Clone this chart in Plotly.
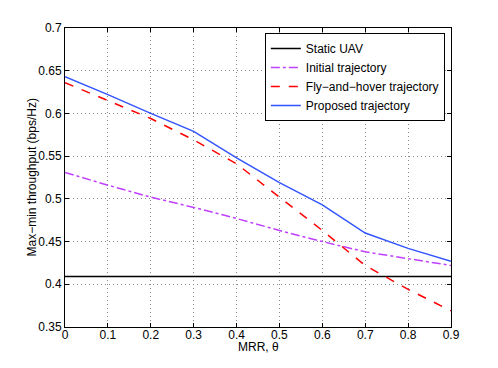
import plotly.graph_objects as go

mrr = [0, 0.1, 0.2, 0.3, 0.4, 0.5, 0.6, 0.7, 0.8, 0.9]
static_uav = [0.409] * 10
initial = [0.531, 0.516, 0.502, 0.490, 0.477, 0.463, 0.450, 0.438, 0.430, 0.422]
fly_hover = [0.636, 0.615, 0.594, 0.569, 0.541, 0.502, 0.463, 0.422, 0.394, 0.369]
proposed = [0.643, 0.622, 0.600, 0.579, 0.548, 0.519, 0.493, 0.460, 0.442, 0.427]

x_title = "MRR, \u03b8"
y_title = "Max\u2212min throughput (bps/Hz)"

fig = go.Figure()
fig.add_trace(go.Scatter(x=mrr, y=static_uav, mode="lines", name="Static UAV",
                         line=dict(color="#000000", width=1.5)))
fig.add_trace(go.Scatter(x=mrr, y=initial, mode="lines", name="Initial trajectory",
                         line=dict(color="#bf40ff", width=1.5, dash="dashdot")))
fig.add_trace(go.Scatter(x=mrr, y=fly_hover, mode="lines", name="Fly\u2212and\u2212hover trajectory",
                         line=dict(color="#ff0000", width=1.5, dash="dash")))
fig.add_trace(go.Scatter(x=mrr, y=proposed, mode="lines", name="Proposed trajectory",
                         line=dict(color="#3355ff", width=1.5)))

axis_common = dict(showline=True, linecolor="#000000", linewidth=1, mirror="ticks",
                   ticks="inside", ticklen=4, tickcolor="#000000",
                   showgrid=True, gridcolor="#8a8a8a", griddash="1px,3px", gridwidth=1,
                   zeroline=False, automargin=False,
                   tickfont=dict(size=12, color="#000000"))

fig.update_xaxes(range=[0, 0.9], dtick=0.1, tick0=0, ticklabelstandoff=-3, **axis_common)
fig.update_yaxes(range=[0.35, 0.7], dtick=0.05, tick0=0.35, **axis_common)

fig.add_annotation(text=x_title, xref="paper", yref="paper", x=0.5, y=0,
                   xanchor="center", yanchor="middle", yshift=-20, showarrow=False,
                   font=dict(size=12, color="#000000"))
fig.add_annotation(text=y_title, xref="paper", yref="paper", x=0, y=0.5,
                   xanchor="center", yanchor="middle", xshift=-34, textangle=-90,
                   showarrow=False, font=dict(size=12, color="#000000"))

fig.update_layout(
    width=490, height=360,
    margin=dict(l=57, r=47, t=20, b=41),
    paper_bgcolor="white", plot_bgcolor="white",
    font=dict(family="Liberation Sans, Arial, sans-serif", size=12, color="#000000"),
    legend=dict(x=0.984, y=0.983, xanchor="right", yanchor="top",
                bordercolor="#000000", borderwidth=1, bgcolor="white",
                font=dict(size=12), tracegroupgap=0, itemwidth=30),
    showlegend=True,
)

fig.write_html("out.html")
